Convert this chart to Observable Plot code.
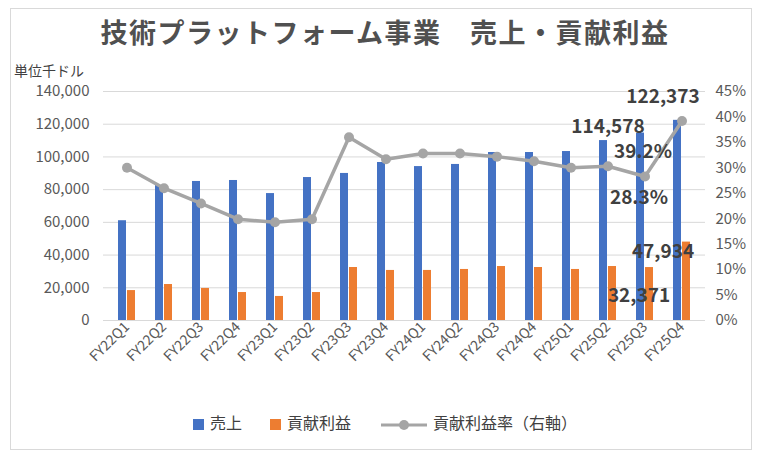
<!DOCTYPE html>
<html><head><meta charset="utf-8">
<script src="https://cdn.jsdelivr.net/npm/d3@7"></script>
<script src="https://cdn.jsdelivr.net/npm/@observablehq/plot@0.6"></script>
<style>
body{margin:0;font-family:"Noto Sans CJK JP",sans-serif;background:#fff}
#box{position:absolute;left:10px;top:8px;width:740px;height:440px;border:1px solid #d9d9d9;}
#title{position:absolute;left:0;top:12px;width:770px;text-align:center;font-size:27px;font-weight:bold;color:#505050;letter-spacing:1.5px}
#unit{position:absolute;left:14px;top:60px;font-size:14px;color:#404040}
#chart{position:absolute;left:0;top:60px}
#legend{position:absolute;top:410px;left:0;width:770px;display:flex;justify-content:center;gap:28px;font-size:16px;color:#404040;align-items:center}
.sw{display:inline-block;width:11px;height:11px;margin-right:6px;vertical-align:middle}
</style></head><body>
<div id="box"></div>
<div id="title">技術プラットフォーム事業　売上・貢献利益</div>
<div id="unit">単位千ドル</div>
<div id="chart"></div>
<div id="legend">
<span><span class="sw" style="background:#4472c4"></span>売上</span>
<span><span class="sw" style="background:#ed7d31"></span>貢献利益</span>
<span><svg width="50" height="12" style="vertical-align:middle;margin-right:4px"><line x1="2" y1="6" x2="48" y2="6" stroke="#a5a5a5" stroke-width="3"/><circle cx="25" cy="6" r="5" fill="#a5a5a5"/></svg>貢献利益率（右軸）</span>
</div>
<script>
const quarters=["FY22Q1","FY22Q2","FY22Q3","FY22Q4","FY23Q1","FY23Q2","FY23Q3","FY23Q4","FY24Q1","FY24Q2","FY24Q3","FY24Q4","FY25Q1","FY25Q2","FY25Q3","FY25Q4"];
const sales=[61000,82500,85000,85600,77600,87400,89900,96600,94100,95400,102700,102700,103300,110000,114578,122373];
const profit=[18300,22000,19600,17100,14700,17100,32400,30600,30600,31200,33000,32400,31200,33000,32371,47934];
const rate=[30.0,26.0,23.0,19.9,19.3,19.9,36.0,31.7,32.8,32.8,32.2,31.3,30.0,30.3,28.3,39.2];
const leftTicks=[0,20000,40000,60000,80000,100000,120000,140000];
const rightTicks=[0,5,10,15,20,25,30,35,40,45];
const YMAX=140000, RMAX=45;
const toY=r=>r/RMAX*YMAX;
const data=quarters.map((q,i)=>({q,s:sales[i],p:profit[i],r:rate[i],ry:toY(rate[i])}));
const fmt=d3.format(",");
const q3=data[14], q4=data[15];
const txt={fontSize:19,fontWeight:"bold",fill:"#404040"};
const lab=(d,y,text,dx,dy)=>Plot.text([d],{x:"q",y,text,dx,dy,...txt});
const plot=Plot.plot({
  width:762,height:340,marginTop:31,marginBottom:80,marginLeft:103,marginRight:57,
  style:{fontFamily:"Noto Sans CJK JP, sans-serif",fontSize:"14px",color:"#595959"},
  x:{domain:quarters,padding:0,label:null},
  y:{domain:[0,YMAX],label:null},
  marks:[
    Plot.ruleY(leftTicks,{stroke:"#d9d9d9"}),
    Plot.axisY({ticks:leftTicks,tickFormat:fmt,tickSize:0,tickPadding:14,label:null,fontSize:15}),
    Plot.axisY({anchor:"right",ticks:rightTicks.map(toY),tickFormat:v=>Math.round(v/YMAX*RMAX)+"%",tickSize:0,tickPadding:10,label:null,fontSize:15}),
    Plot.axisX({tickRotate:-45,tickSize:0,tickPadding:4,label:null,fontSize:14}),
    Plot.barY(data,{x:"q",y:"s",fill:"#4472c4",insetLeft:10,insetRight:19}),
    Plot.barY(data,{x:"q",y:"p",fill:"#ed7d31",insetLeft:19,insetRight:10}),
    Plot.line(data,{x:"q",y:"ry",stroke:"#a5a5a5",strokeWidth:3.5}),
    Plot.dot(data,{x:"q",y:"ry",fill:"#a5a5a5",r:5}),
    lab(q3,"s",d=>fmt(d.s),-37,-6),
    lab(q4,"s",d=>fmt(d.s),-19,-23),
    lab(q3,"ry",d=>d.r.toFixed(1)+"%",-6,21),
    lab(q4,"ry",d=>d.r.toFixed(1)+"%",-39,31),
    lab(q3,"p",d=>fmt(d.p),-6,28),
    lab(q4,"p",d=>fmt(d.p),-19,10)
  ]
});
document.getElementById("chart").appendChild(plot);
</script>
</body></html>
